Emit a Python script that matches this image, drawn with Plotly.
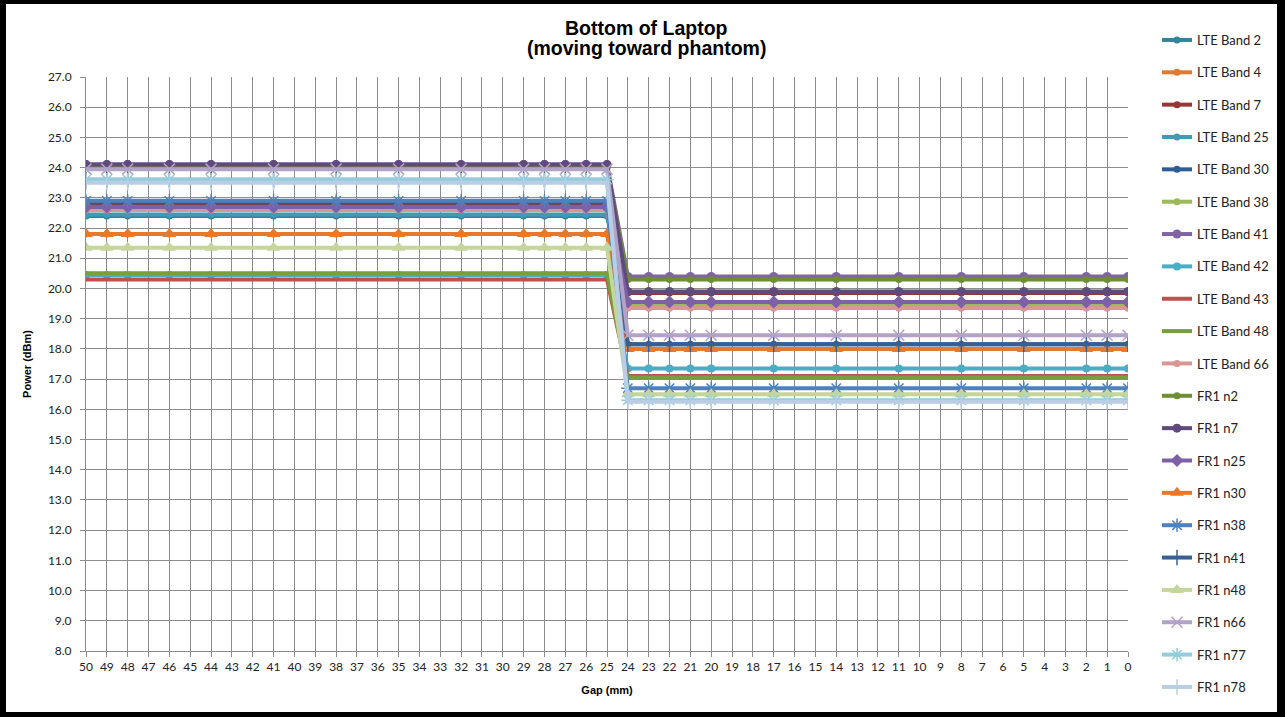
import plotly.graph_objects as go

# Data
gaps = [50, 49, 48, 46, 44, 41, 38, 35, 32, 29, 28, 27, 26, 25,
        24, 23, 22, 21, 20, 17, 14, 11, 8, 5, 2, 1, 0]
n_far = 14  # points at gap >= 25
series_names = ["LTE Band 2", "LTE Band 4", "LTE Band 7", "LTE Band 25", "LTE Band 30",
                "LTE Band 38", "LTE Band 41", "LTE Band 42", "LTE Band 43", "LTE Band 48",
                "LTE Band 66", "FR1 n2", "FR1 n7", "FR1 n25", "FR1 n30", "FR1 n38",
                "FR1 n41", "FR1 n48", "FR1 n66", "FR1 n77", "FR1 n78"]
power_far = [22.4, 21.8, 22.8, 22.45, 22.85, 24.0, 24.1, 20.45, 20.3, 20.5, 22.6,
             24.0, 24.1, 22.7, 21.8, 22.9, 23.6, 21.35, 23.95, 23.6, 23.5]
power_near = [19.4, 19.35, 19.85, 19.4, 18.15, 19.45, 20.4, 17.35, 17.1, 17.05, 19.35,
              20.3, 19.9, 19.55, 18.0, 16.7, 18.15, 16.5, 18.45, 16.3, 16.25]
y_ticks = [8 + i for i in range(20)]
title_lines = ["Bottom of Laptop", "(moving toward phantom)"]

colors = ["#31849B", "#E07A2F", "#953735", "#3D9BB8", "#2F5C92",
          "#9BBB59", "#8064A2", "#4BACC6", "#C0504D", "#77A03C",
          "#D99694", "#6E8E35", "#5F4A7B", "#7E60A6", "#E8792A", "#4F81BD",
          "#376092", "#C3D69B", "#B3A2C7", "#93CDDD", "#B9CDE5"]
symbols = ["circle", "circle", "circle", "circle", "circle",
           "circle", "circle", "circle", None, None,
           "circle", "circle", "circle", "diamond", "triangle-up", "asterisk-open",
           "line-ns-open", "triangle-up", "x-thin-open", "asterisk-open", "line-ns-open"]
sizes = [7, 7, 7, 7, 7, 7, 9, 8, 0, 0, 7, 7, 9, 10, 12, 11, 11, 12, 11, 11, 11]

fig = go.Figure()
for i, name in enumerate(series_names):
    yv = [power_far[i]] * n_far + [power_near[i]] * (len(gaps) - n_far)
    sym = symbols[i]
    if sym is None:
        mode = "lines"
        marker = dict()
    else:
        mode = "lines+markers"
        marker = dict(symbol=sym, size=sizes[i], color=colors[i],
                      line=dict(width=1.5 if "open" in sym else 0, color=colors[i]))
    fig.add_trace(go.Scatter(x=gaps, y=yv, name=name, mode=mode,
                             line=dict(color=colors[i], width=4),
                             marker=marker, legendgroup=name))

L, R, T, B = 86, 157, 77, 66
W, H = 1285, 717
pw, ph = W - L - R, H - T - B

def px(x):
    return (x - L) / pw

def py(y):
    return (H - B - y) / ph

font_tick = dict(family="Lato, 'Open Sans', sans-serif", size=12, color="#222222")
font_bold = "Liberation Sans, Arial, sans-serif"

fig.update_layout(
    width=W, height=H,
    margin=dict(l=L, r=R, t=T, b=B, autoexpand=False),
    paper_bgcolor="white", plot_bgcolor="white",
    xaxis=dict(range=[50, 0], dtick=1, tick0=0, showgrid=True, gridcolor="#8C8C8C", gridwidth=1,
               showline=True, linecolor="#8C8C8C", ticks="outside", ticklen=5, tickcolor="#8C8C8C",
               tickfont=font_tick, zeroline=False,
               title=dict(text="<b>Gap (mm)</b>", font=dict(family=font_bold, size=11, color="black"),
                          standoff=12)),
    yaxis=dict(range=[8, 27], tickvals=y_ticks, tickformat=".1f", showgrid=True, gridcolor="#8C8C8C", gridwidth=1,
               showline=True, linecolor="#8C8C8C", ticks="outside", ticklen=5, tickcolor="#8C8C8C",
               tickfont=font_tick, zeroline=False, ticklabelstandoff=6,
               title=dict(text="<b>Power (dBm)</b>", font=dict(family=font_bold, size=11, color="black"),
                          standoff=14)),
    legend=dict(x=px(1157), xanchor="left", y=py(25), yanchor="top",
                traceorder="grouped", tracegroupgap=12.45, itemwidth=30,
                font=dict(family="Lato, 'Open Sans', sans-serif", size=13, color="#222222"),
                bgcolor="rgba(0,0,0,0)", maxheight=1.0),
    showlegend=True,
)

for k, (txt, yc) in enumerate(zip(title_lines, [28, 48])):
    fig.add_annotation(text="<b>" + txt + "</b>", xref="paper", yref="paper",
                       x=px(646), y=py(yc), xanchor="center", yanchor="middle",
                       showarrow=False, font=dict(family=font_bold, size=19.5, color="black"))

# black frame
frame = [(0, 0, 6, H), (W - 8, 0, W, H), (0, 0, W, 4), (0, H - 5, W, H)]
for (x0, y0, x1, y1) in frame:
    fig.add_shape(type="rect", xref="paper", yref="paper",
                  x0=px(x0), x1=px(x1), y0=py(y1), y1=py(y0),
                  fillcolor="black", line=dict(width=0), layer="above")

fig.write_html("out.html", config={"displayModeBar": False},
               post_script="document.body.style.margin='0';document.body.style.overflow='hidden';")
